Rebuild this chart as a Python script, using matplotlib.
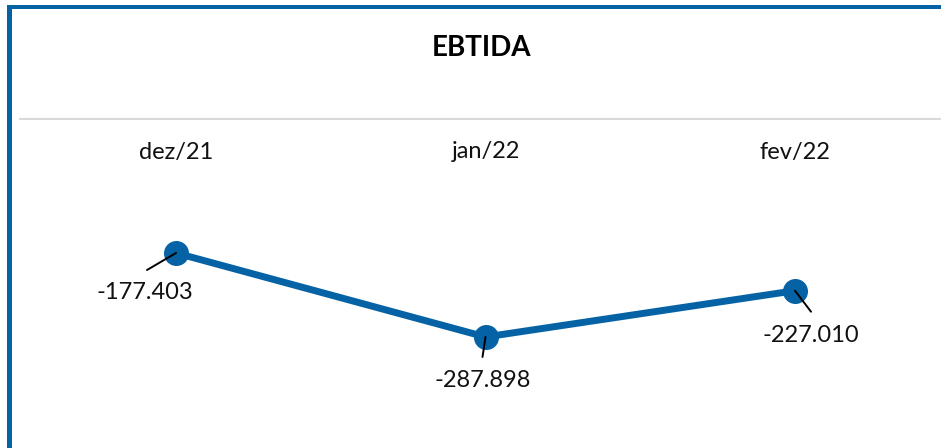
import matplotlib
matplotlib.use("Agg")
import matplotlib.pyplot as plt
from matplotlib.patches import Rectangle
from matplotlib.lines import Line2D
from matplotlib.transforms import blended_transform_factory

months = ["dez/21", "jan/22", "fev/22"]
ebitda = [-177.403, -287.898, -227.010]
labels = ["-177.403", "-287.898", "-227.010"]

blue = "#0563a5"
plt.rcParams["font.family"] = ["Lato", "DejaVu Sans"]

fig = plt.figure(figsize=(9.41, 4.48), dpi=100)
W, H = 941, 448
ax = fig.add_axes([0, 0, 1, 1])
ax.set_xlim(-0.5687, 2.4717)
ax.set_ylim(-434.0, 155.5)
ax.axis("off")

x = list(range(len(months)))
ax.plot(x, ebitda, color=blue, lw=5, marker="o", markersize=17,
        solid_capstyle="round", zorder=3)

# category labels along the top
tr = blended_transform_factory(ax.transData, ax.transAxes)
for i, m in enumerate(months):
    ax.text(i, 1 - 152 / H, m, transform=tr, ha="center", va="center",
            fontsize=17, color="#111111")

# data labels with leader lines (offsets in pixels)
lead_end = [(-29, -17), (-3, -20), (16, -21)]
text_off = [(-31, -40), (-3, -44), (16, -45)]
for i, v in enumerate(ebitda):
    ax.annotate("", xy=(i, v), xytext=lead_end[i], textcoords="offset pixels",
                arrowprops=dict(arrowstyle="-", color="black", lw=1.4,
                                shrinkA=0, shrinkB=0), zorder=4)
    ax.annotate(labels[i], xy=(i, v), xytext=text_off[i],
                textcoords="offset pixels", ha="center", va="center",
                fontsize=17, color="#111111")

# title and separator
fig.text(481 / W, 1 - 48 / H, "EBTIDA", ha="center", va="center",
         fontsize=20, fontweight="bold", color="black")
fig.add_artist(Line2D([20 / W, 1], [1 - 119 / H, 1 - 119 / H],
                      color="#d9d9d9", lw=1.5, transform=fig.transFigure))

# blue frame on left and top
fig.add_artist(Rectangle((7 / W, 0), 5 / W, 1 - 5 / H, color=blue,
                         transform=fig.transFigure, lw=0))
fig.add_artist(Rectangle((7 / W, 1 - 9 / H), 1, 4 / H, color=blue,
                         transform=fig.transFigure, lw=0))

fig.savefig("out.png", dpi=100)
